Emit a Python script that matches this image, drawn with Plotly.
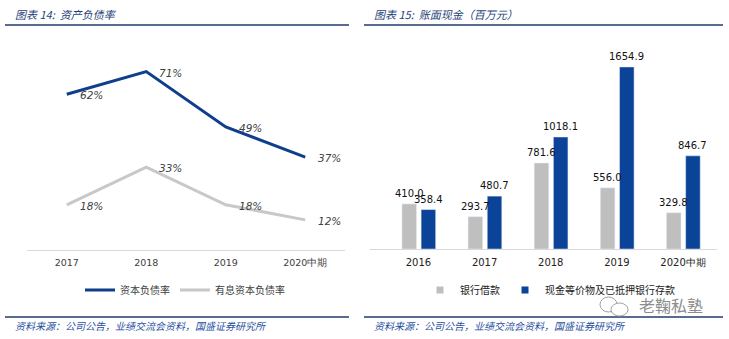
import plotly.graph_objects as go

W, H = 729, 339

# ---- data ----
years_left = ["2017", "2018", "2019", "2020中期"]
debt_ratio = [62, 71, 49, 37]            # 资本负债率 (%)
int_debt_ratio = [18, 33, 18, 12]        # 有息资本负债率 (%)

years_right = ["2016", "2017", "2018", "2019", "2020中期"]
bank_loans = [410.0, 293.7, 781.6, 556.0, 329.8]        # 银行借款
cash_deposits = [358.4, 480.7, 1018.1, 1654.9, 846.7]   # 现金等价物及已抵押银行存款

title_left = "图表 14:  资产负债率"
title_right = "图表 15:  账面现金（百万元）"
source_text = "资料来源：公司公告，业绩交流会资料，国盛证券研究所"

BLUE_LINE = "#0F3F8C"
GRAY_LINE = "#C8C8C8"
BLUE_BAR = "#0A4398"
GRAY_BAR = "#BFBFBF"
TITLE_C = "#1F3F7A"
SRC_C = "#1F4FA0"
CJK = "Noto Sans CJK SC"
NUM = "DejaVu Sans"

BAR_W = 0.22
GRAY_OFF = -0.25
BLUE_OFF = 0.04

def px_x(p):
    return p / W

def px_y(p):
    return 1 - p / H

fig = go.Figure()

# ---- left chart: lines ----
fig.add_trace(go.Scatter(x=years_left, y=debt_ratio, mode="lines", name="资本负债率",
                         line=dict(color=BLUE_LINE, width=3), xaxis="x", yaxis="y",
                         legend="legend", cliponaxis=False))
fig.add_trace(go.Scatter(x=years_left, y=int_debt_ratio, mode="lines", name="有息资本负债率",
                         line=dict(color=GRAY_LINE, width=3), xaxis="x", yaxis="y",
                         legend="legend", cliponaxis=False))

annotations = []
for series in (debt_ratio, int_debt_ratio):
    for i, v in enumerate(series):
        annotations.append(dict(x=i, y=v, xref="x", yref="y", text=f"{v}%",
                                showarrow=False, xanchor="left", yanchor="middle",
                                xshift=11, yshift=-1,
                                font=dict(family=NUM, size=10.5, color="#404040", style="italic")))

# ---- right chart: bars ----
fig.add_trace(go.Bar(x=years_right, y=bank_loans, name="银行借款", marker_color=GRAY_BAR,
                     width=BAR_W, offset=GRAY_OFF,
                     xaxis="x2", yaxis="y2", showlegend=False))
fig.add_trace(go.Bar(x=years_right, y=cash_deposits, name="现金等价物及已抵押银行存款",
                     marker_color=BLUE_BAR, width=BAR_W, offset=BLUE_OFF,
                     xaxis="x2", yaxis="y2", showlegend=False))
for series, off in ((bank_loans, GRAY_OFF), (cash_deposits, BLUE_OFF)):
    for i, v in enumerate(series):
        annotations.append(dict(x=i + off + BAR_W / 2, y=v, xref="x2", yref="y2",
                                text=f"{v:.1f}", showarrow=False, xanchor="center",
                                yanchor="bottom", yshift=3,
                                font=dict(family=NUM, size=10, color="#111111")))
# legend entries with small square symbols
fig.add_trace(go.Scatter(x=[None], y=[None], mode="markers", name="银行借款",
                         marker=dict(symbol="square", size=7, color=GRAY_BAR),
                         xaxis="x2", yaxis="y2", legend="legend2"))
fig.add_trace(go.Scatter(x=[None], y=[None], mode="markers", name="现金等价物及已抵押银行存款",
                         marker=dict(symbol="square", size=7, color=BLUE_BAR),
                         xaxis="x2", yaxis="y2", legend="legend2"))

# ---- titles / sources / watermark ----
for x0, txt in ((13, title_left), (372, title_right)):
    annotations.append(dict(x=px_x(x0), y=px_y(14), xref="paper", yref="paper", text=txt,
                            showarrow=False, xanchor="left", yanchor="middle",
                            font=dict(family=CJK, size=11, color=TITLE_C, style="italic")))
for x0 in (13, 372):
    annotations.append(dict(x=px_x(x0), y=px_y(325), xref="paper", yref="paper", text=source_text,
                            showarrow=False, xanchor="left", yanchor="middle",
                            font=dict(family=CJK, size=10, color=SRC_C, style="italic")))
annotations.append(dict(x=px_x(637), y=px_y(305), xref="paper", yref="paper", text="老鞠私塾",
                        showarrow=False, xanchor="left", yanchor="middle",
                        font=dict(family=CJK, size=16, color="#8C8C8C")))

shapes = []
for x0, x1 in ((5, 349), (364, 723)):
    for yy in (25, 317):
        shapes.append(dict(type="line", xref="paper", yref="paper",
                           x0=px_x(x0), x1=px_x(x1), y0=px_y(yy), y1=px_y(yy),
                           line=dict(color="#1F3D6B", width=1.5)))
# small wechat-like icon of the watermark
shapes.append(dict(type="circle", xref="paper", yref="paper",
                   x0=px_x(600), x1=px_x(617), y0=px_y(312), y1=px_y(297),
                   line=dict(color="#A0A0A0", width=1)))
shapes.append(dict(type="circle", xref="paper", yref="paper",
                   x0=px_x(611), x1=px_x(628), y0=px_y(316), y1=px_y(303),
                   line=dict(color="#A0A0A0", width=1), fillcolor="white"))

axis_common = dict(showgrid=False, zeroline=False, ticks="", showline=True,
                   linecolor="#D9D9D9", linewidth=1, type="category", fixedrange=True,
                   ticklabelstandoff=4)

fig.update_layout(
    width=W, height=H, margin=dict(l=0, r=0, t=0, b=0),
    paper_bgcolor="white", plot_bgcolor="white",
    xaxis=dict(domain=[px_x(27), px_x(345)], range=[-0.5, 3.5],
               tickfont=dict(family=NUM, size=9.5, color="#404040"), anchor="y", **axis_common),
    yaxis=dict(domain=[px_y(250), px_y(49)], range=[0, 80], visible=False, fixedrange=True),
    xaxis2=dict(domain=[px_x(370), px_x(717)], range=[-0.733, 4.514],
                tickfont=dict(family=NUM, size=10, color="#222222"), anchor="y2", **axis_common),
    yaxis2=dict(domain=[px_y(249), px_y(50)], range=[0, 1809], visible=False, fixedrange=True),
    barmode="overlay",
    legend=dict(orientation="h", x=px_x(80), y=px_y(290), xanchor="left", yanchor="middle",
                font=dict(family=CJK, size=10, color="#404040"), bgcolor="rgba(0,0,0,0)",
                itemwidth=30, tracegroupgap=0),
    legend2=dict(orientation="h", x=px_x(420), y=px_y(290), xanchor="left", yanchor="middle",
                 font=dict(family=CJK, size=10, color="#222222"), bgcolor="rgba(0,0,0,0)",
                 itemwidth=30, tracegroupgap=0),
    annotations=annotations, shapes=shapes,
)

fig.write_html("out.html")
